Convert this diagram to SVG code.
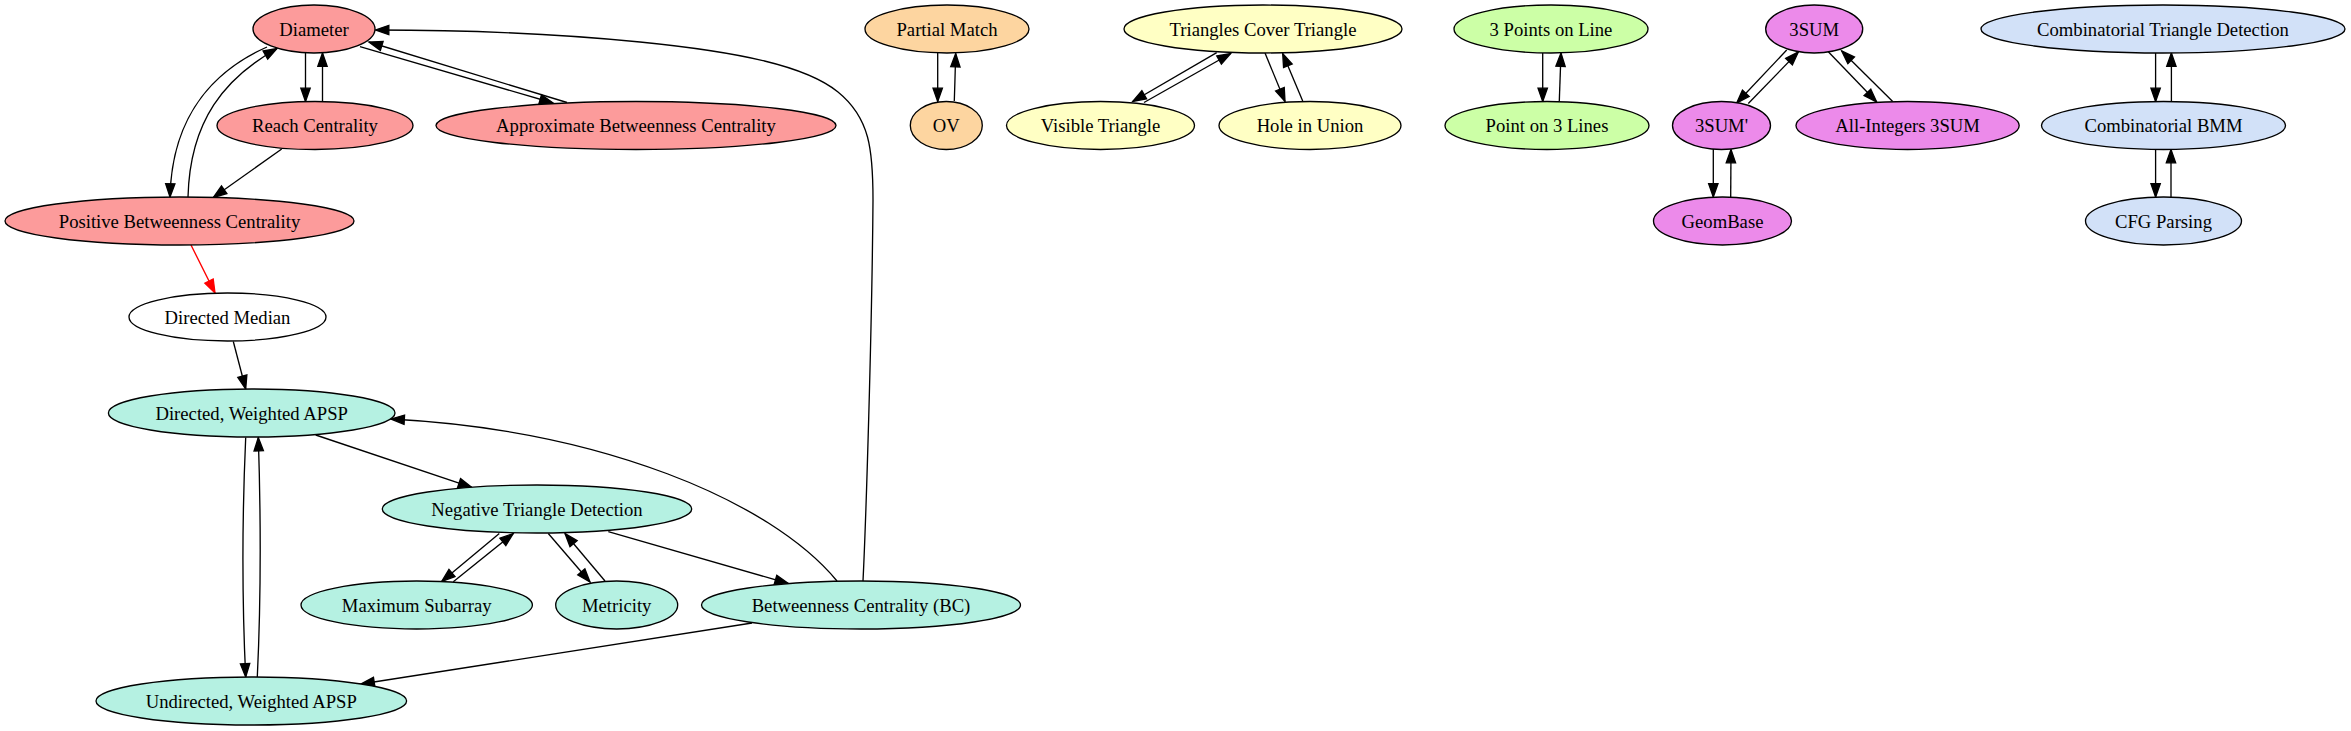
<svg xmlns="http://www.w3.org/2000/svg" width="2351" height="731" viewBox="0 0 2351 731">
<defs>
<marker id="ah" markerUnits="userSpaceOnUse" markerWidth="18" markerHeight="14" viewBox="-2 -7 18 14" refX="13.33" refY="0" orient="auto" overflow="visible">
<path d="M0,-4.67 L13.33,0 L0,4.67 Z" fill="#000" stroke="#000" stroke-width="1.33"/>
</marker>
<marker id="ahr" markerUnits="userSpaceOnUse" markerWidth="18" markerHeight="14" viewBox="-2 -7 18 14" refX="13.33" refY="0" orient="auto" overflow="visible">
<path d="M0,-4.67 L13.33,0 L0,4.67 Z" fill="#ff0000" stroke="#ff0000" stroke-width="1.33"/>
</marker>
</defs>
<style>
.n ellipse{stroke:#000;stroke-width:1.33}
.n text{font-family:"Liberation Serif","Times New Roman",serif;font-size:18.67px;text-anchor:middle;fill:#000}
.pink ellipse{fill:#fc9b9b}
.white ellipse{fill:#ffffff}
.teal ellipse{fill:#b5f1e2}
.peach ellipse{fill:#fdd5a0}
.yellow ellipse{fill:#ffffc4}
.green ellipse{fill:#ccffa6}
.violet ellipse{fill:#ec8aea}
.blue ellipse{fill:#d2e1f8}
#edges path{fill:none;stroke:#000;stroke-width:1.33;marker-end:url(#ah)}
#edges path.red{stroke:#ff0000;marker-end:url(#ahr)}
</style>
<rect width="2351" height="731" fill="#fff"/>
<g id="edges">
<path d="M305.5,53 L305.5,101.5"/>
<path d="M322.5,101.5 L322.5,53"/>
<path d="M360,46.7 L553,103"/>
<path d="M567,102.5 L369,42"/>
<path d="M267,47 C220,68 172,110 170,197"/>
<path d="M188,197 C190,120 225,78 277,48.5"/>
<path d="M281.7,149 L213.3,197.5"/>
<path class="red" d="M191,245 L215,293"/>
<path d="M233.3,341.5 L245.7,389"/>
<path d="M245.7,437.5 C242,520 242,600 245.7,677"/>
<path d="M257.3,677 C261,600 261,520 258.3,437.5"/>
<path d="M315.7,435 L471.7,487.3"/>
<path d="M499.3,533.5 L441.7,581.5"/>
<path d="M453.3,581.7 L513.3,533.5"/>
<path d="M548.3,533.5 L590,582"/>
<path d="M605,581 L565,533.5"/>
<path d="M608.3,531.7 L788.3,583.5"/>
<path d="M837,581 C770,500 600,430 391,419"/>
<path d="M863,581 C866,520 872,330 873,200 C873,150 870,118 838,92 C806,66 740,52 640,42 C540,32 450,30 375.5,30"/>
<path d="M752,623 L361,684"/>
<path d="M937.7,53 L937.7,101.5"/>
<path d="M954.3,101 C954.8,85 955.3,70 955.7,53.5"/>
<path d="M1216.7,52.7 L1132.7,101.5"/>
<path d="M1144,102.5 L1230.7,53.5"/>
<path d="M1265,53 L1285,101.5"/>
<path d="M1302.7,101 L1282.7,53.5"/>
<path d="M1542.7,53 L1542.7,101.5"/>
<path d="M1559.3,101 L1561,53"/>
<path d="M1786.7,50 L1736.7,103"/>
<path d="M1748.3,103.5 L1798.3,52"/>
<path d="M1828.3,51.7 L1876.7,102"/>
<path d="M1892.7,101.5 L1841.7,51"/>
<path d="M1713.3,149 L1713.3,197"/>
<path d="M1730.7,197 L1731,149.5"/>
<path d="M2155.6,53 L2155.6,101.5"/>
<path d="M2171.4,101 L2171.4,53"/>
<path d="M2155.6,149.5 L2155.6,197"/>
<path d="M2171,197 L2171,149.5"/>
</g>
<g id="diameter" class="n pink"><ellipse cx="314" cy="29" rx="61" ry="24"/><text x="314" y="35.5">Diameter</text></g>
<g id="reach" class="n pink"><ellipse cx="315" cy="125.5" rx="98" ry="24"/><text x="315" y="132">Reach Centrality</text></g>
<g id="approx" class="n pink"><ellipse cx="636" cy="125.5" rx="200" ry="24"/><text x="636" y="132">Approximate Betweenness Centrality</text></g>
<g id="posbc" class="n pink"><ellipse cx="179.5" cy="221" rx="174.5" ry="24"/><text x="179.5" y="227.5">Positive Betweenness Centrality</text></g>
<g id="dmedian" class="n white"><ellipse cx="227.5" cy="317" rx="98.5" ry="24"/><text x="227.5" y="323.5">Directed Median</text></g>
<g id="dapsp" class="n teal"><ellipse cx="251.7" cy="413" rx="143.3" ry="24"/><text x="251.7" y="419.5">Directed, Weighted APSP</text></g>
<g id="negtri" class="n teal"><ellipse cx="537" cy="509" rx="154.7" ry="24"/><text x="537" y="515.5">Negative Triangle Detection</text></g>
<g id="maxsub" class="n teal"><ellipse cx="416.7" cy="605" rx="115.7" ry="24"/><text x="416.7" y="611.5">Maximum Subarray</text></g>
<g id="metricity" class="n teal"><ellipse cx="616.7" cy="605" rx="61" ry="24"/><text x="616.7" y="611.5">Metricity</text></g>
<g id="bc" class="n teal"><ellipse cx="861" cy="605" rx="159.5" ry="24"/><text x="861" y="611.5">Betweenness Centrality (BC)</text></g>
<g id="uapsp" class="n teal"><ellipse cx="251.3" cy="701" rx="155.3" ry="24"/><text x="251.3" y="707.5">Undirected, Weighted APSP</text></g>
<g id="pmatch" class="n peach"><ellipse cx="947" cy="29" rx="82" ry="24"/><text x="947" y="35.5">Partial Match</text></g>
<g id="ov" class="n peach"><ellipse cx="946.3" cy="125.5" rx="36" ry="24"/><text x="946.3" y="132">OV</text></g>
<g id="tct" class="n yellow"><ellipse cx="1263" cy="29" rx="139" ry="24"/><text x="1263" y="35.5">Triangles Cover Triangle</text></g>
<g id="vis" class="n yellow"><ellipse cx="1100.5" cy="125.5" rx="94" ry="24"/><text x="1100.5" y="132">Visible Triangle</text></g>
<g id="hole" class="n yellow"><ellipse cx="1310" cy="125.5" rx="91" ry="24"/><text x="1310" y="132">Hole in Union</text></g>
<g id="p3l" class="n green"><ellipse cx="1551" cy="29" rx="97" ry="24"/><text x="1551" y="35.5">3 Points on Line</text></g>
<g id="pt3" class="n green"><ellipse cx="1547" cy="125.5" rx="102" ry="24"/><text x="1547" y="132">Point on 3 Lines</text></g>
<g id="sum3" class="n violet"><ellipse cx="1814.2" cy="29" rx="48.5" ry="24"/><text x="1814.2" y="35.5">3SUM</text></g>
<g id="sum3p" class="n violet"><ellipse cx="1721.5" cy="125.5" rx="49" ry="24"/><text x="1721.5" y="132">3SUM'</text></g>
<g id="allint" class="n violet"><ellipse cx="1907.6" cy="125.5" rx="111.6" ry="24"/><text x="1907.6" y="132">All-Integers 3SUM</text></g>
<g id="geom" class="n violet"><ellipse cx="1722.5" cy="221" rx="69" ry="24"/><text x="1722.5" y="227.5">GeomBase</text></g>
<g id="ctd" class="n blue"><ellipse cx="2163" cy="29" rx="182" ry="24"/><text x="2163" y="35.5">Combinatorial Triangle Detection</text></g>
<g id="bmm" class="n blue"><ellipse cx="2163.5" cy="125.5" rx="122" ry="24"/><text x="2163.5" y="132">Combinatorial BMM</text></g>
<g id="cfg" class="n blue"><ellipse cx="2163.5" cy="221" rx="78" ry="24"/><text x="2163.5" y="227.5">CFG Parsing</text></g>
</svg>
